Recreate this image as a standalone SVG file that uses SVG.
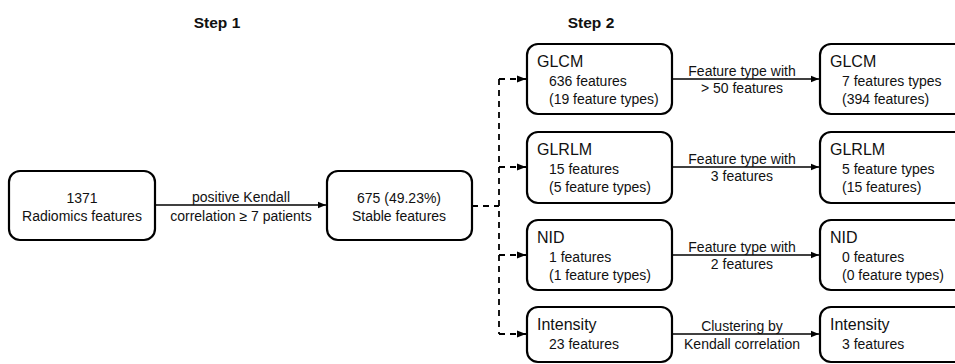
<svg xmlns="http://www.w3.org/2000/svg" width="955" height="364" viewBox="0 0 955 364">
<defs>
<marker id="ah" viewBox="0 0 10 10" refX="10" refY="5" markerWidth="5" markerHeight="5" orient="auto"><path d="M0,1 L10,5 L0,9 z" fill="#000"/></marker>
<style>
text{font-family:"Liberation Sans","Noto Sans",Arial,sans-serif;fill:#111;}
.box{fill:#fff;stroke:#000;stroke-width:2.2;}
.t{font-size:16px;}
.s{font-size:14px;}
.c{text-anchor:middle;}
.step{font-size:15.5px;font-weight:bold;text-anchor:middle;}
.ln{stroke:#000;stroke-width:1.6;fill:none;}
.dash{stroke:#000;stroke-width:1.8;fill:none;stroke-dasharray:6,5;}
</style>
</defs>
<rect width="955" height="364" fill="#fff"/>
<text class="step" x="217" y="28">Step 1</text>
<text class="step" x="591" y="28">Step 2</text>
<g id="connectors">
<line class="ln" x1="155" y1="205" x2="326" y2="205" marker-end="url(#ah)"/>
<text class="s c" x="241" y="202">positive Kendall</text>
<text class="s c" x="241" y="221">correlation ≥ 7  patients</text>
<path class="dash" d="M472,206 H499"/>
<path class="dash" d="M499,79 V334"/>
<line class="dash" x1="499" y1="79" x2="526" y2="79" marker-end="url(#ah)"/>
<line class="dash" x1="499" y1="167" x2="526" y2="167" marker-end="url(#ah)"/>
<line class="dash" x1="499" y1="255" x2="526" y2="255" marker-end="url(#ah)"/>
<line class="dash" x1="499" y1="334" x2="526" y2="334" marker-end="url(#ah)"/>
<line class="ln" x1="672" y1="79" x2="819" y2="79" marker-end="url(#ah)"/>
<text class="s c" x="742" y="76">Feature type with</text>
<text class="s c" x="742" y="93">&gt; 50 features</text>
<line class="ln" x1="672" y1="167" x2="819" y2="167" marker-end="url(#ah)"/>
<text class="s c" x="742" y="164">Feature type with</text>
<text class="s c" x="742" y="181">3 features</text>
<line class="ln" x1="672" y1="255" x2="819" y2="255" marker-end="url(#ah)"/>
<text class="s c" x="742" y="252">Feature type with</text>
<text class="s c" x="742" y="269">2 features</text>
<line class="ln" x1="672" y1="334" x2="819" y2="334" marker-end="url(#ah)"/>
<text class="s c" x="742" y="331">Clustering by</text>
<text class="s c" x="742" y="349">Kendall correlation</text>
</g>
<g id="n-radiomics">
<rect class="box" x="9" y="171" width="146" height="69" rx="11"/>
<text class="s c" x="82" y="203">1371</text>
<text class="s c" x="82" y="221">Radiomics features</text>
</g>
<g id="n-stable">
<rect class="box" x="327" y="171" width="145" height="69" rx="11"/>
<text class="s c" x="399" y="203">675 (49.23%)</text>
<text class="s c" x="399" y="221">Stable features</text>
</g>
<g id="n-glcm1">
<rect class="box" x="527" y="44" width="145" height="70" rx="11"/>
<text class="t" x="537" y="67">GLCM</text>
<text class="s" x="549" y="86">636 features</text>
<text class="s" x="549" y="104">(19 feature types)</text>
</g>
<g id="n-glrlm1">
<rect class="box" x="527" y="132" width="145" height="71" rx="11"/>
<text class="t" x="537" y="155">GLRLM</text>
<text class="s" x="549" y="174">15 features</text>
<text class="s" x="549" y="192">(5 feature types)</text>
</g>
<g id="n-nid1">
<rect class="box" x="527" y="220" width="145" height="70" rx="11"/>
<text class="t" x="537" y="243">NID</text>
<text class="s" x="549" y="262">1 features</text>
<text class="s" x="549" y="280">(1 feature types)</text>
</g>
<g id="n-int1">
<rect class="box" x="527" y="307" width="145" height="55" rx="11"/>
<text class="t" x="537" y="330">Intensity</text>
<text class="s" x="549" y="349">23 features</text>
</g>
<g id="n-glcm2">
<rect class="box" x="820" y="44" width="150" height="70" rx="11"/>
<text class="t" x="830" y="67">GLCM</text>
<text class="s" x="842" y="86">7 features types</text>
<text class="s" x="842" y="104">(394 features)</text>
</g>
<g id="n-glrlm2">
<rect class="box" x="820" y="132" width="150" height="71" rx="11"/>
<text class="t" x="830" y="155">GLRLM</text>
<text class="s" x="842" y="174">5 feature types</text>
<text class="s" x="842" y="192">(15 features)</text>
</g>
<g id="n-nid2">
<rect class="box" x="820" y="220" width="150" height="70" rx="11"/>
<text class="t" x="830" y="243">NID</text>
<text class="s" x="842" y="262">0 features</text>
<text class="s" x="842" y="280">(0 feature types)</text>
</g>
<g id="n-int2">
<rect class="box" x="820" y="307" width="150" height="55" rx="11"/>
<text class="t" x="830" y="330">Intensity</text>
<text class="s" x="842" y="349">3 features</text>
</g>
</svg>
